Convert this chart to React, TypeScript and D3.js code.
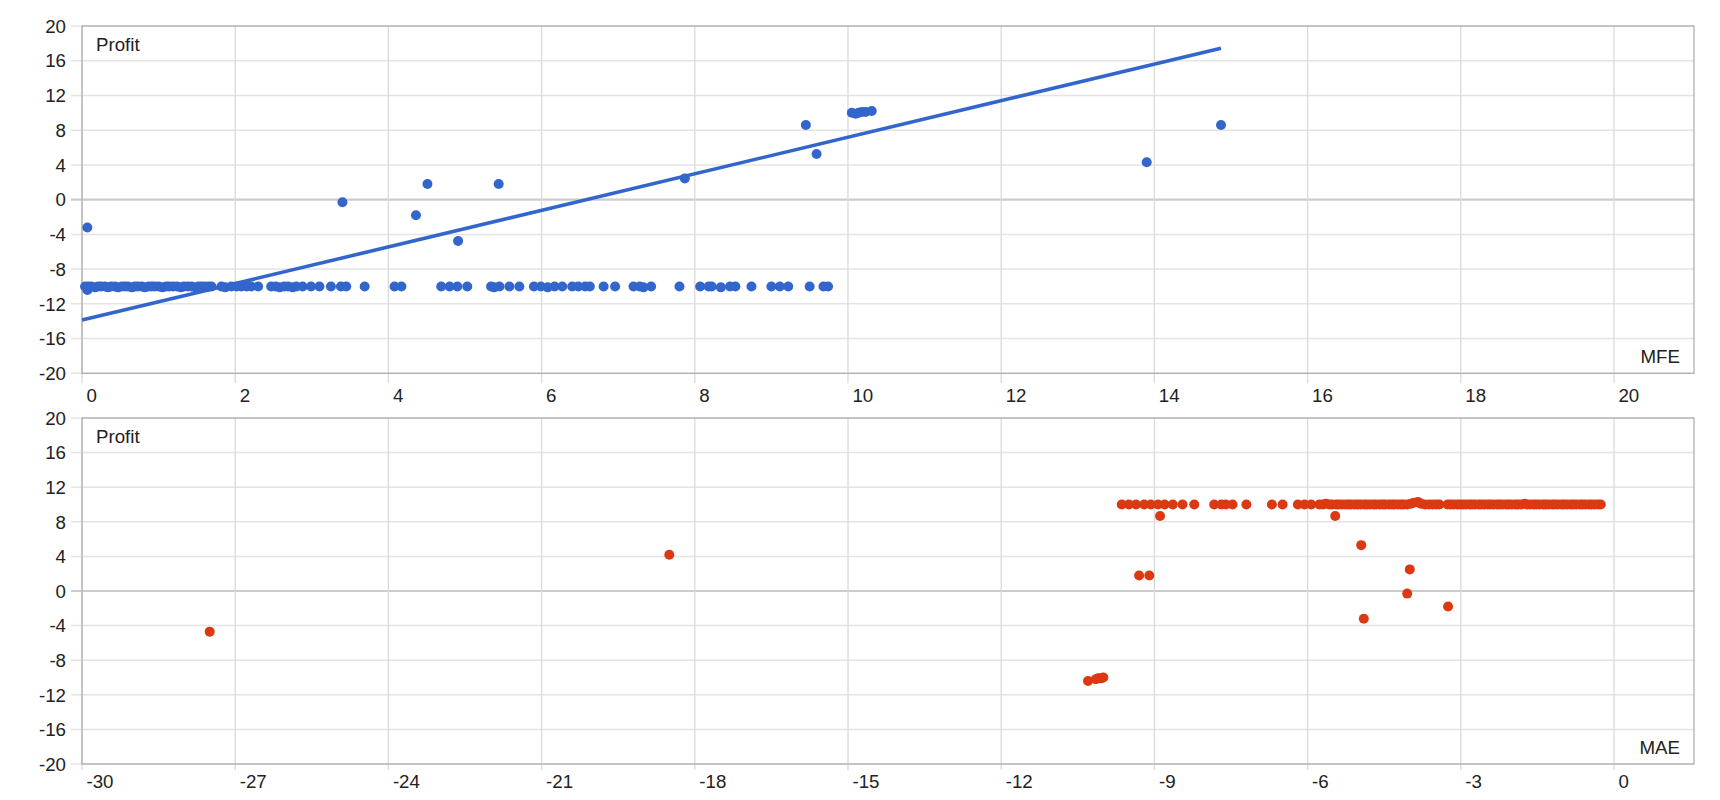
import * as d3 from "d3"

const W = 1720
const H = 800
const LEFT = 82
const RIGHT = 1694

// MFE vs Profit (top panel)
const mfeTrades: [number, number][] = [
  [0.04, -10], [0.07, -10.4], [0.07, -3.2], [0.08, -10], [0.12, -10], [0.17, -10.1], [0.21, -10],
  [0.25, -10], [0.3, -10], [0.34, -10.1], [0.38, -10], [0.43, -10], [0.47, -10.1], [0.52, -10],
  [0.56, -10], [0.6, -10], [0.65, -10.1], [0.69, -10], [0.73, -10], [0.78, -10], [0.82, -10.1],
  [0.87, -10], [0.91, -10], [0.95, -10], [1.0, -10], [1.05, -10.1], [1.1, -10], [1.14, -10],
  [1.19, -10], [1.24, -10], [1.29, -10.1], [1.33, -10], [1.38, -10], [1.43, -10], [1.48, -10.1],
  [1.52, -10], [1.56, -10], [1.6, -10], [1.65, -10], [1.69, -10], [1.82, -10], [1.87, -10.1],
  [1.95, -10], [2.02, -10], [2.08, -10], [2.15, -10], [2.21, -10], [2.3, -10], [2.47, -10],
  [2.53, -10], [2.58, -10.1], [2.64, -10], [2.69, -10], [2.75, -10.1], [2.8, -10], [2.88, -10],
  [2.99, -10], [3.1, -10], [3.25, -10], [3.38, -10], [3.4, -0.3], [3.45, -10], [3.69, -10],
  [4.08, -10], [4.17, -10], [4.36, -1.8], [4.51, 1.8], [4.69, -10], [4.8, -10], [4.9, -10],
  [4.91, -4.77], [5.03, -10], [5.34, -10], [5.38, -10.1], [5.44, 1.8], [5.45, -10], [5.58, -10],
  [5.71, -10], [5.9, -10], [5.99, -10], [6.08, -10.1], [6.17, -10], [6.27, -10], [6.4, -10],
  [6.48, -10], [6.57, -10], [6.63, -10], [6.81, -10], [6.96, -10], [7.2, -10], [7.28, -10],
  [7.33, -10.1], [7.43, -10], [7.8, -10], [7.87, 2.45], [8.07, -10], [8.18, -10], [8.22, -10],
  [8.34, -10.1], [8.46, -10], [8.53, -10], [8.74, -10], [9.0, -10], [9.11, -10], [9.22, -10],
  [9.45, 8.6], [9.5, -10], [9.59, 5.25], [9.68, -10], [9.74, -10], [10.05, 10.0], [10.1, 9.9],
  [10.14, 10.0], [10.18, 10.1], [10.23, 10.1], [10.31, 10.2], [13.9, 4.3], [14.87, 8.6],
]

// trendline endpoints
const mfeTrend: [number, number][] = [[0, -13.87], [14.87, 17.45]]

// MAE vs Profit (bottom panel)
const maeTrades: [number, number][] = [
  [-27.5, -4.7], [-18.5, 4.2], [-10.3, -10.4], [-10.15, -10.2], [-10.1, -10.1], [-10.05, -10.1],
  [-10.0, -10.0], [-9.64, 10], [-9.5, 10], [-9.36, 10], [-9.3, 1.8], [-9.2, 10], [-9.1, 1.8],
  [-9.07, 10], [-8.93, 10], [-8.89, 8.67], [-8.8, 10], [-8.64, 10], [-8.45, 10], [-8.22, 10],
  [-7.83, 10], [-7.69, 10], [-7.6, 10], [-7.47, 10], [-7.2, 10], [-6.7, 10], [-6.49, 10],
  [-6.19, 10], [-6.06, 10], [-5.93, 10], [-5.77, 10], [-5.7, 10], [-5.64, 10.1], [-5.57, 10],
  [-5.52, 10], [-5.46, 8.67], [-5.44, 10], [-5.39, 10], [-5.33, 10], [-5.26, 10], [-5.2, 10],
  [-5.15, 10], [-5.08, 10], [-5.02, 10], [-4.95, 5.3], [-4.96, 10], [-4.9, -3.2], [-4.89, 10],
  [-4.84, 10], [-4.78, 10], [-4.71, 10], [-4.66, 10], [-4.59, 10], [-4.53, 10], [-4.48, 10],
  [-4.41, 10], [-4.35, 10], [-4.3, 10], [-4.23, 10], [-4.17, 10], [-4.12, 10], [-4.05, -0.3],
  [-4.05, 10], [-4.0, 2.5], [-3.98, 10.1], [-3.92, 10.2], [-3.84, 10.3], [-3.78, 10.1],
  [-3.7, 10], [-3.62, 10], [-3.55, 10], [-3.48, 10], [-3.42, 10], [-3.26, 10], [-3.25, -1.8],
  [-3.2, 10], [-3.14, 10], [-3.07, 10], [-3.02, 10], [-2.96, 10], [-2.9, 10], [-2.83, 10],
  [-2.78, 10], [-2.72, 10], [-2.65, 10], [-2.6, 10], [-2.54, 10], [-2.47, 10], [-2.42, 10],
  [-2.36, 10], [-2.29, 10], [-2.24, 10], [-2.18, 10], [-2.11, 10], [-2.06, 10], [-2.0, 10],
  [-1.93, 10], [-1.88, 10], [-1.82, 10], [-1.75, 10.1], [-1.7, 10], [-1.64, 10], [-1.57, 10],
  [-1.52, 10], [-1.46, 10], [-1.39, 10], [-1.34, 10], [-1.28, 10], [-1.21, 10], [-1.16, 10],
  [-1.1, 10], [-1.03, 10], [-0.98, 10], [-0.92, 10], [-0.85, 10], [-0.8, 10], [-0.74, 10],
  [-0.67, 10], [-0.62, 10], [-0.56, 10], [-0.49, 10], [-0.44, 10], [-0.38, 10], [-0.31, 10],
  [-0.26, 10],
]

const profitTicks = [-20, -16, -12, -8, -4, 0, 4, 8, 12, 16, 20]
const mfeTicks = [0, 2, 4, 6, 8, 10, 12, 14, 16, 18, 20]
const maeTicks = [-30, -27, -24, -21, -18, -15, -12, -9, -6, -3, 0]

const FONT = "'Liberation Sans', Arial, sans-serif"
const FS = 18.7

function Panel({ top, bottom, domain, xTicks, points, color, trend, xTitle, tickLen, labelDy }) {
  const x = d3.scaleLinear().domain(domain).range([LEFT, RIGHT])
  const y = d3.scaleLinear().domain([-20, 20]).range([bottom, top])
  const line = d3.line<[number, number]>().x((d) => x(d[0])).y((d) => y(d[1]))

  return (
    <g>
      {profitTicks.map((t) => (
        <line key={"h" + t} x1={LEFT - 11} x2={RIGHT} y1={y(t)} y2={y(t)}
          stroke={t === 0 ? "#cccccc" : "#e4e4e4"} strokeWidth={t === 0 ? 2.2 : 1.5} />
      ))}
      {xTicks.map((t) => (
        <line key={"v" + t} x1={x(t)} x2={x(t)} y1={top} y2={bottom + tickLen}
          stroke="#dadada" strokeWidth={1.3} />
      ))}
      <rect x={LEFT} y={top} width={RIGHT - LEFT} height={bottom - top}
        fill="none" stroke="#ababab" strokeWidth={1.2} />
      {profitTicks.map((t) => (
        <text key={"yl" + t} x={LEFT - 16} y={y(t)} dy="0.36em" textAnchor="end"
          fontFamily={FONT} fontSize={FS} fill="#222">{String(t)}</text>
      ))}
      {xTicks.map((t) => (
        <text key={"xl" + t} x={x(t) + 4.5} y={bottom + labelDy}
          fontFamily={FONT} fontSize={FS} fill="#222">{String(t)}</text>
      ))}
      {trend && (
        <path d={line(trend) || ""} fill="none" stroke={color} strokeWidth={3.6} />
      )}
      {points.map((p, i) => (
        <circle key={i} cx={x(p[0])} cy={y(p[1])} r={5} fill={color} />
      ))}
      <text x={LEFT + 14} y={top + 24.7} fontFamily={FONT} fontSize={FS} fill="#222">Profit</text>
      <text x={RIGHT - 14} y={bottom - 10} textAnchor="end" fontFamily={FONT} fontSize={FS} fill="#222">
        {xTitle}
      </text>
    </g>
  )
}

export default function App() {
  return (
    <div style={{ position: "absolute", left: 0, top: 0, width: W, height: H, background: "#fff" }}>
      <svg width={W} height={H} style={{ display: "block" }}>
        <rect width={W} height={H} fill="#ffffff" />
        <Panel top={26} bottom={373.3} domain={[0, 21.045]} xTicks={mfeTicks} points={mfeTrades}
          color="#3366cc" trend={mfeTrend} xTitle="MFE" tickLen={10} labelDy={28.4} />
        <Panel top={418} bottom={764} domain={[-30, 1.566]} xTicks={maeTicks} points={maeTrades}
          color="#dc3912" trend={null} xTitle="MAE" tickLen={6} labelDy={24.3} />
      </svg>
    </div>
  )
}
